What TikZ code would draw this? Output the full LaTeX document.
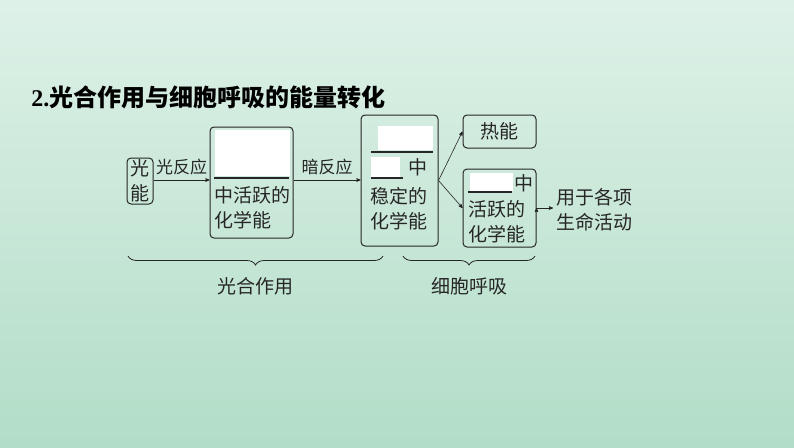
\documentclass[tikz,border=0pt]{standalone}
\usepackage{fontspec}
\setmainfont{Liberation Serif}
\newfontfamily\cjk{Noto Sans CJK SC}
\usetikzlibrary{arrows, positioning, decorations.pathreplacing}
\definecolor{bgtop}{HTML}{DEF1E8}
\definecolor{bgbot}{HTML}{B2DDC7}
\definecolor{ink}{HTML}{262626}

\begin{document}
\begin{tikzpicture}[x=1pt,y=1pt,>=stealth',semithick,
    box/.style={draw=ink, rounded corners=4pt, line width=1pt, inner sep=0pt},
    txt/.style={font=\cjk\fontsize{19}{25}\selectfont, text=ink, inner sep=0pt, align=left},
    lbl/.style={font=\cjk\fontsize{17}{20}\selectfont, text=ink, inner sep=0pt},
    blank/.style={fill=white, draw=none, inner sep=0pt},
    brc/.style={draw=ink, line width=0.8pt, decorate, decoration={brace, amplitude=9pt}}]
                \useasboundingbox (0,0) rectangle (794,-447);
                \shade[top color=bgtop, bottom color=bgbot] (0,0) rectangle (794,-447);
                \node[anchor=west, inner sep=0pt, text=black, font=\cjk\bfseries\fontsize{24}{28}\selectfont] (title) at (31,-97) {{\rmfamily\bfseries 2.}光合作用与细胞呼吸的能量转化};

                % boxes
                \node[box, txt, align=center, minimum width=26pt, minimum height=46pt] (light) at (140,-181) {光\\能};
                \node[box, minimum width=83pt, minimum height=111pt] (chemA) at (251.5,-182.5) {};
                \node[box, minimum width=77pt, minimum height=131pt] (chemB) at (399.5,-180.5) {};
                \node[box, txt, minimum width=73pt, minimum height=33pt] (heat) at (499.5,-131.5) {热能};
                \node[box, minimum width=73pt, minimum height=78pt] (chemC) at (499.5,-208) {};
                \node[txt, anchor=west] (use) at (556,-209.5) {用于各项\\生命活动};

                % blanks and text inside
                \node[blank, minimum width=75pt, minimum height=46pt, anchor=north west] (blankA) at (215,-130) {};
                \draw[ink, line width=1.2pt] (214,-178) -- (289,-178);
                \node[txt, anchor=west] (textA) at (214,-207.5) {中活跃的\\化学能};

                \node[blank, minimum width=55pt, minimum height=24pt, anchor=north west] (blankB) at (378,-126) {};
                \draw[ink, line width=1.2pt] (371,-152) -- (433,-152);
                \node[blank, minimum width=29pt, minimum height=20pt, anchor=north west] (blankB2) at (371,-157) {};
                \draw[ink, line width=1.2pt] (371,-178) -- (403,-178);
                \node[txt] (midB) at (418,-167) {中};
                \node[txt, anchor=west] (textB) at (370,-208.5) {稳定的\\化学能};

                \node[blank, minimum width=43pt, minimum height=18pt, anchor=north west] (blankC) at (470,-173) {};
                \draw[ink, line width=1.2pt] (468,-192) -- (512,-192);
                \node[txt] (midC) at (524,-183) {中};
                \node[txt, anchor=west] (textC) at (468,-222) {活跃的\\化学能};

                % arrows
                \path[->, draw=ink]
                (light.east |- 0,-180) edge node[lbl, above=5pt] {光反应} (chemA.west |- 0,-180)
                (chemA.east |- 0,-180) edge node[lbl, above=5pt] {暗反应} (chemB.west |- 0,-180)
                (chemB.east) edge (heat.west)
                    edge (chemC.west)
                (chemC.east) edge ([xshift=-3pt]use.west |- chemC.east)
                ;

                % braces
                \draw[brc] (383,-256) -- (128,-256) node[lbl, midway, below=21pt, font=\cjk\fontsize{19}{22}\selectfont] (photo) {光合作用};
                \draw[brc] (535,-256) -- (403,-256) node[lbl, midway, below=21pt, font=\cjk\fontsize{19}{22}\selectfont] (resp) {细胞呼吸};
            \end{tikzpicture}
\end{document}
